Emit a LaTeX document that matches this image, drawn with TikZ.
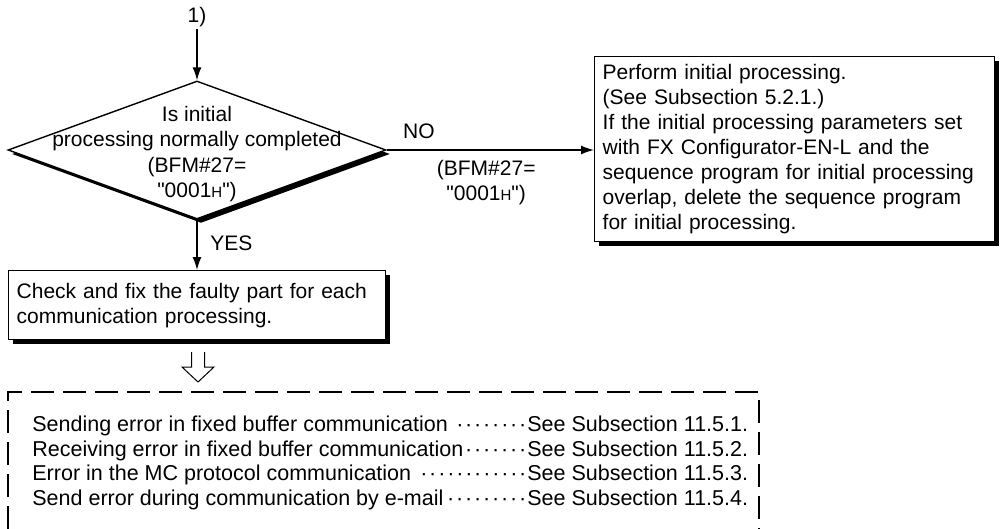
\documentclass[tikz,border=0pt]{standalone}
\usepackage{fontspec}
\setmainfont{Liberation Sans}[Ligatures=TeXOff]
\usepackage{tikz}
\usetikzlibrary{arrows.meta,positioning,shapes.geometric,shadows}
\newcommand{\hexH}{{\fontsize{7.5pt}{9pt}\selectfont H}}
\newcommand{\leaderdots}{\leaders\hbox to 4.5pt{\hss\textperiodcentered\hss}\hfill}
\tikzset{
  blackshadow/.style={drop shadow={shadow xshift=2pt, shadow yshift=-2pt, fill=black, opacity=1}},
  flowbox/.style={draw, fill=white, line width=0.7pt, align=left, inner xsep=4pt, inner ysep=0pt, blackshadow},
  decision/.style={diamond, draw, fill=white, line width=0.7pt, inner sep=0pt, minimum width=189pt, minimum height=69pt, blackshadow},
  flow/.style={line width=0.7pt, -{Latex[length=6.5pt,width=4.5pt]}},
  groupframe/.style={line width=1pt, dash pattern=on 11.5pt off 4.5pt},
  listitem/.style={inner sep=0pt, anchor=west, font=\fontsize{10.75pt}{12.5pt}\selectfont}
}

\begin{document}
\begin{tikzpicture}[x=0.5pt, y=-0.5pt, font=\fontsize{10.5pt}{12.5pt}\selectfont]
\useasboundingbox (0,0) rectangle (1005,529);

% decision
\node[inner sep=1pt] (start) at (197,17) {1)};
\node[decision] (dec) at (197,150) {};
\node[align=center, font=\fontsize{10.5pt}{12.8pt}\selectfont] (dectext) at (197,154) {Is initial\\processing normally completed\\(BFM\#27=\\"0001\hexH")};
\draw[flow] (start) -- (dec);

% NO branch
\node[flowbox, text width=192pt, minimum height=92.5pt, anchor=north west] (initbox) at (594,56)
  {Perform initial processing.\\(See Subsection 5.2.1.)\\If the initial processing parameters set\\with FX Configurator-EN-L and the\\sequence program for initial processing\\overlap, delete the sequence program\\for initial processing.};
\draw[flow] (dec.east) -- node[pos=0.155, above=2pt] (nolabel) {NO}
  node[pos=0.48, below=1.5pt, align=center] (nocond) {(BFM\#27=\\"0001\hexH")} (dec.east -| initbox.west);

% YES branch
\node[flowbox, text width=180.5pt, minimum height=34.5pt, anchor=north west] (fixbox) at (8,270)
  {Check and fix the faulty part for each\\communication processing.};
\draw[flow] (dec.south) -- node[pos=0.47, right=3pt] (yeslabel) {YES} (fixbox.north -| dec.south);

% hollow arrow
\coordinate (hollow) at (191.5,352);
\draw[line width=0.5pt, fill=white] (hollow) -- ++(0,15) -- ++(-9.5,0) -- ++(16,15) -- ++(16,-15) -- ++(-9.5,0) -- ++(0,-15);

% list of subsections
\draw[groupframe] (8,529) -- (8,392) -- (759,392) -- (759,529);
\foreach \txt/\sub [count=\i] in {Sending error in fixed buffer communication/11.5.1.,
  Receiving error in fixed buffer communication/11.5.2.,
  Error in the MC protocol communication/11.5.3.,
  Send error during communication by e-mail/11.5.4.}
{
  \node[listitem] (item\i) at (32,{426+24.5*(\i-1)}) {\hbox to 247.5pt{\txt\leaderdots}See Subsection \sub};
}
\end{tikzpicture}
\end{document}
